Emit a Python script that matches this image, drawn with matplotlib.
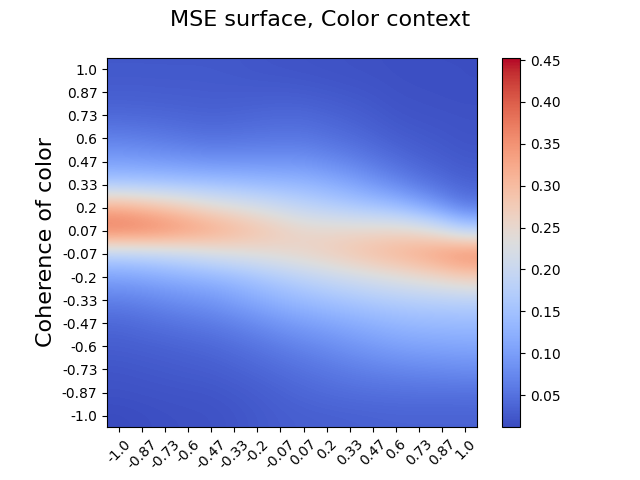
import matplotlib
matplotlib.use("Agg")
import matplotlib.pyplot as plt
import numpy as np

coherence = [-1.0, -0.87, -0.73, -0.6, -0.47, -0.33, -0.2, -0.07,
             0.07, 0.2, 0.33, 0.47, 0.6, 0.73, 0.87, 1.0]

# MSE rows, top (color coherence 1.0) to bottom (-1.0); columns motion -1.0 .. 1.0
row_p100 = [.025, .025, .025, .025, .025, .024, .022, .021, .020, .019, .018, .017, .016, .015, .015, .015]
row_p087 = [.030, .030, .029, .029, .028, .028, .028, .028, .027, .025, .023, .021, .018, .017, .016, .015]
row_p073 = [.040, .039, .038, .036, .035, .036, .038, .040, .040, .036, .032, .027, .022, .020, .019, .018]
row_p060 = [.065, .062, .058, .054, .050, .052, .054, .055, .055, .050, .044, .037, .030, .026, .023, .020]
row_p047 = [.100, .097, .093, .089, .085, .085, .085, .085, .085, .077, .068, .056, .045, .036, .030, .025]
row_p033 = [.160, .158, .156, .153, .150, .146, .141, .137, .133, .123, .110, .092, .075, .058, .045, .035]
row_p020 = [.325, .310, .292, .272, .250, .236, .221, .205, .190, .178, .166, .155, .142, .118, .090, .060]
row_p007 = [.380, .375, .365, .350, .335, .315, .295, .275, .258, .255, .255, .255, .255, .245, .220, .180]
row_m007 = [.180, .186, .194, .204, .218, .228, .238, .248, .258, .270, .285, .300, .315, .330, .350, .370]
row_m020 = [.105, .110, .118, .125, .132, .142, .156, .170, .185, .198, .210, .222, .233, .246, .260, .275]
row_m033 = [.065, .070, .077, .084, .090, .103, .116, .130, .140, .150, .158, .166, .172, .176, .178, .180]
row_m047 = [.040, .045, .050, .055, .060, .068, .078, .090, .100, .108, .117, .125, .133, .137, .139, .140]
row_m060 = [.030, .032, .034, .037, .040, .046, .053, .062, .070, .078, .087, .095, .102, .106, .108, .110]
row_m073 = [.022, .024, .026, .028, .030, .034, .039, .045, .051, .057, .063, .068, .072, .075, .077, .080]
row_m087 = [.018, .019, .020, .021, .022, .025, .029, .034, .039, .043, .046, .048, .049, .050, .050, .050]
row_m100 = [.012, .014, .016, .017, .018, .021, .025, .029, .031, .032, .033, .034, .035, .035, .035, .035]

color_min = 0.0116
color_max = 0.453

mse = np.array([row_p100, row_p087, row_p073, row_p060, row_p047, row_p033,
                row_p020, row_p007, row_m007, row_m020, row_m033, row_m047,
                row_m060, row_m073, row_m087, row_m100])

fig, ax = plt.subplots(figsize=(6.4, 4.8), dpi=100)
im = ax.imshow(mse, cmap="coolwarm", interpolation="bicubic",
               vmin=color_min, vmax=color_max)
fig.colorbar(im, ax=ax)
ax.set_xticks(range(len(coherence)))
ax.set_xticklabels([str(v) for v in coherence], rotation=45)
ax.set_yticks(range(len(coherence)))
ax.set_yticklabels([str(v) for v in coherence[::-1]])
ax.set_xlabel("Coherence of motion", fontsize=16, labelpad=6)
ax.set_ylabel("Coherence of color", fontsize=16)
fig.suptitle("MSE surface, Color context", fontsize=16)
fig.savefig("out.png", dpi=100)
